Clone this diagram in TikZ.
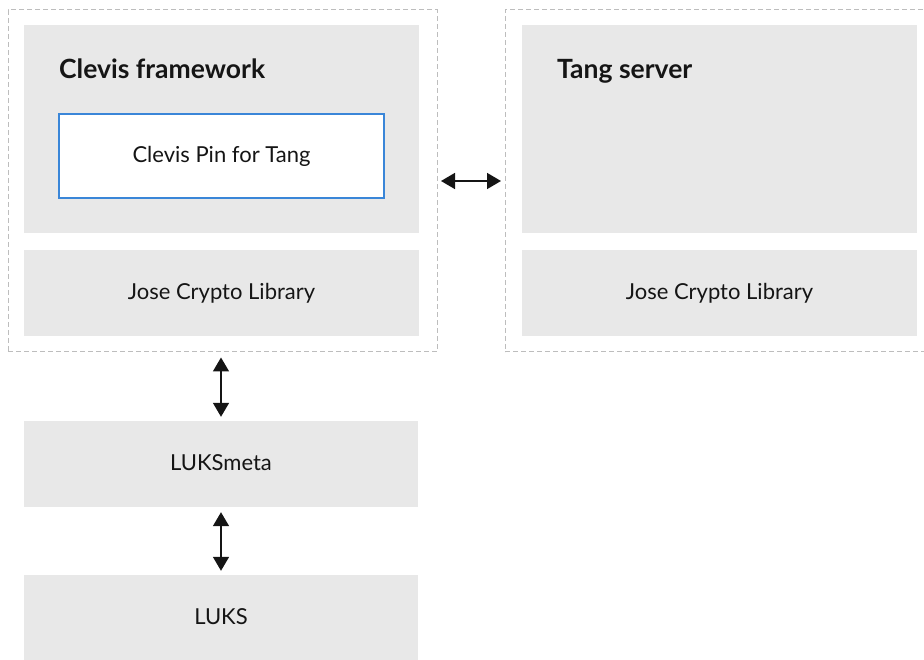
\documentclass[tikz,border=0pt]{standalone}
\usepackage{fontspec}
\setmainfont{Lato}
\usetikzlibrary{arrows.meta}
\definecolor{boxgrey}{HTML}{E8E8E8}
\definecolor{dashgrey}{HTML}{BDBDBD}
\definecolor{pinblue}{HTML}{3A86D8}
\definecolor{txt}{HTML}{151515}
\tikzset{
  frame/.style={draw=dashgrey, line width=1pt, dash pattern=on 5pt off 3pt, inner sep=0pt},
  greybox/.style={fill=boxgrey, draw=none, inner sep=0pt, text=txt, text height=13pt, text depth=0pt, font=\fontsize{22}{24}\selectfont},
  pinbox/.style={fill=white, draw=pinblue, line width=1.5pt, inner sep=0pt, text=txt, text height=13pt, text depth=0pt, font=\fontsize{22}{24}\selectfont},
  title/.style={anchor=base west, inner sep=0pt, text=txt, font=\fontsize{26.5}{28}\selectfont\bfseries},
  biarrow/.style={{Triangle[length=14pt,width=16pt]}-{Triangle[length=14pt,width=16pt]}, line width=1.6pt, draw=txt}
}
\begin{document}
\begin{tikzpicture}[x=1pt,y=-1pt]
\useasboundingbox (0,0) rectangle (924,660);
% dashed frames
\node[frame, minimum width=429pt, minimum height=342pt] (lframe) at (222.5,181) {};
\node[frame, minimum width=430pt, minimum height=342pt] (rframe) at (720,181) {};
% left column
\node[greybox, minimum width=395pt, minimum height=208pt] (cf) at (221.5,129) {};
\node[title] (cftitle) at (59,79) {Clevis framework};
\node[pinbox, minimum width=325pt, minimum height=84pt] (pin) at (221.5,156) {Clevis Pin for Tang};
\node[greybox, minimum width=395pt, minimum height=86pt] (josel) at (221.5,293) {Jose Crypto Library};
% right column
\node[greybox, minimum width=395pt, minimum height=208pt] (tang) at (719.5,129) {};
\node[title] (tangtitle) at (557,79) {Tang server};
\node[greybox, minimum width=395pt, minimum height=86pt] (joser) at (719.5,293) {Jose Crypto Library};
% lower stack
\node[greybox, minimum width=394pt, minimum height=86pt] (luksmeta) at (221,464) {LUKSmeta};
\node[greybox, minimum width=394pt, minimum height=86pt] (luks) at (221,618) {LUKS};
% arrows
\coordinate (h1) at (441,181);
\coordinate (h2) at (501,181);
\draw[biarrow] (h1) -- (h2);
\draw[biarrow] ([yshift=-5pt]lframe.south -| luksmeta.north) -- ([yshift=4pt]luksmeta.north);
\draw[biarrow] ([yshift=-5pt]luksmeta.south) -- ([yshift=4pt]luks.north);
\end{tikzpicture}
\end{document}
